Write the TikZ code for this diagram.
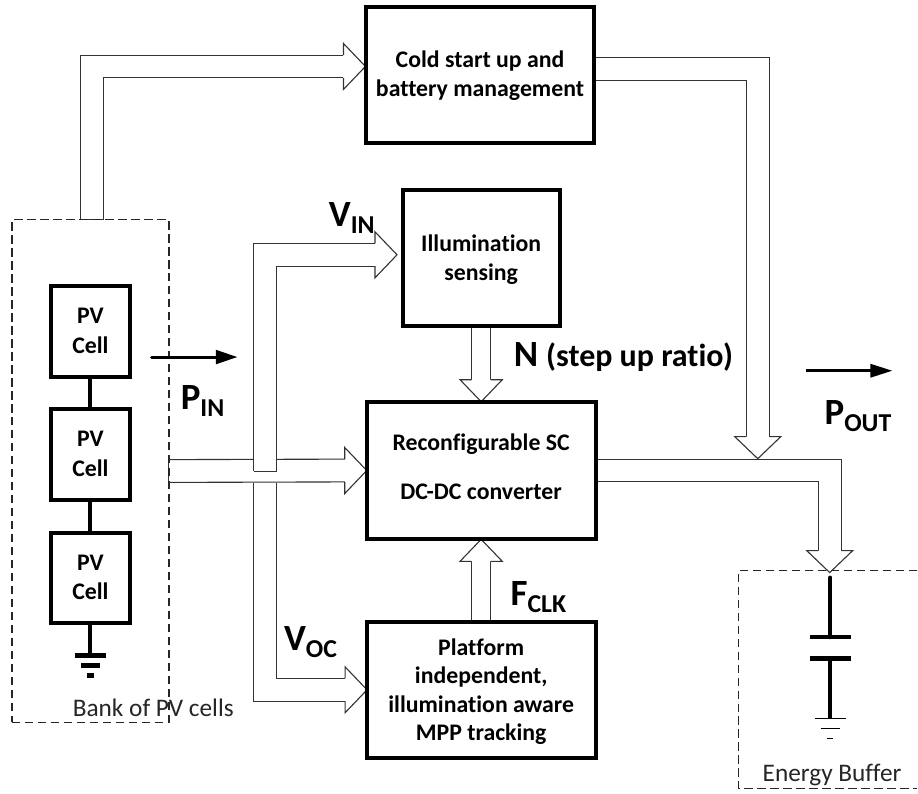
\documentclass[tikz,border=0pt]{standalone}
\usepackage{fontspec}
\setmainfont{Carlito}[Ligatures=NoCommon]
\usetikzlibrary{calc,backgrounds}
\definecolor{arrowline}{HTML}{333333}
\newcommand{\txtlines}[3]{\raisebox{#1pt}[0pt][0pt]{\vtop{\baselineskip=#2pt\lineskiplimit=-100pt\lineskip=0pt\halign{\hfil##\hfil\cr #3}}}}
\newcommand{\biglab}[2]{\fontsize{37}{40}\selectfont\bfseries #1\raisebox{-7pt}{\fontsize{25.8}{28}\selectfont #2}}
\newcommand{\headR}[1]{\draw[headstyle,shift={(#1)}] (-22,-11.4) -- (-22,-23) -- (0,0) -- (-22,23) -- (-22,11.4);}
\newcommand{\headD}[2]{\draw[headstyle,shift={(#1)}] (-#2,-22) -- (-#2-11.6,-22) -- (0,0) -- (#2+11.6,-22) -- (#2,-22);}
\newcommand{\headU}[2]{\draw[headstyle,shift={(#1)}] (-#2,22) -- (-#2-11.6,22) -- (0,0) -- (#2+11.6,22) -- (#2,22);}
% band: #1 path operation, #2 start, #3 end, #4 width, #5 start offset, #6 end offset (the other edge takes the opposite offsets)
\newcommand{\band}[6]{%
  \draw[white,line width=#4pt] (#2) #1 (#3);
  \draw[edge] ($(#2)+(#5)$) #1 ($(#3)+(#6)$);
  \draw[edge] ($(#2)-(#5)$) #1 ($(#3)-(#6)$);}
\tikzset{
  x=1pt,y=-1pt,
  block/.style={draw=black,fill=white,line width=4pt,outer sep=0pt,inner sep=0pt,font=\fontsize{23.8}{26}\selectfont\bfseries},
  cell/.style={block,minimum width=79pt},
  edge/.style={draw=arrowline,line width=1.1pt},
  headstyle/.style={draw=arrowline,line width=1.1pt,fill=white,line join=miter},
  dashbox/.style={draw=black!85,line width=1.3pt,dash pattern=on 8.5pt off 4.5pt},
  wire/.style={draw=black,line width=4pt},
  flow/.style={draw=black,line width=3pt},
  flowhead/.style={fill=black},
  plain/.style={font=\fontsize{25.3}{28}\selectfont,inner sep=0pt,anchor=base west,text=black!85},
  big/.style={inner sep=0pt,anchor=base west},
}
\begin{document}
\begin{tikzpicture}
% blocks
\node[block,minimum width=228.7pt,minimum height=136pt] (cold) at (480.35,75) {\txtlines{7}{28.7}{Cold start up and\cr battery management\cr}};
\node[block,minimum width=157pt,minimum height=136pt] (illum) at (481.5,258.5) {\txtlines{6.8}{29}{Illumination\cr sensing\cr}};
\node[block,minimum width=229pt,minimum height=137.7pt] (conv) at (481.5,470.85) {\txtlines{20}{48.6}{Reconfigurable SC\cr DC-DC converter\cr}};
\node[block,minimum width=229pt,minimum height=136.7pt] (mpp) at (481.5,690.35) {\txtlines{34.3}{28.4}{Platform\cr independent,\cr illumination aware\cr MPP tracking\cr}};
\node[cell,minimum height=91pt] (c1) at (90.5,331.5) {\txtlines{7.5}{29.3}{PV\cr Cell\cr}};
\node[cell,minimum height=91pt] (c2) at (90.5,455) {\txtlines{7.7}{30}{PV\cr Cell\cr}};
\node[cell,minimum height=90pt] (c3) at (90.5,578) {\txtlines{7.3}{29.3}{PV\cr Cell\cr}};
% dashed groups
\node[dashbox,minimum width=157pt,minimum height=502.7pt,outer sep=0pt,inner sep=0pt] (bank) at (90.5,471.35) {};
\draw[dashbox] (918,571) -- (739,571) -- (739,789.3) -- (918,789.3);
% PV chain and ground
\coordinate (g1) at (90.5,656);
\draw[wire] (c1) -- (c2);
\draw[wire] (c2) -- (c3);
\draw[wire] (c3) -- (g1);
\draw[line width=5pt] (75,656) -- (106,656);
\draw[line width=5pt] (81,666) -- (100,666);
\draw[line width=5pt] (87,676) -- (94,676);
% capacitor
\coordinate (captop) at (831,578);
\coordinate (plate1) at (831,637.7);
\coordinate (plate2) at (831,659);
\coordinate (capbot) at (831,719);
\draw[wire,line cap=round] (captop) -- (plate1);
\draw[wire] (plate2) -- (capbot);
\draw[line width=4.5pt] (811,637.7) -- (852,637.7);
\draw[line width=4.5pt] (811,659) -- (852,659);
\draw[line width=1.8pt] (816,719) -- (847,719);
\draw[line width=1.5pt] (822,729) -- (841,729);
\draw[line width=1.8pt] (828,739) -- (834,739);
% hollow arrows
\begin{pgfonlayer}{background}
\fill[white] (0,0) rectangle (918,794);
% bank to cold start
\coordinate (a1s) at (92,220);
\coordinate (a1t) at (365.7,66.5);
\coordinate (a1b) at (343.7,66.5);
\band{|-}{a1s}{a1b}{22.8}{-11.4,0}{0,-11.4}
\headR{a1t}
\draw[edge] (80.6,220) -- (103.4,220);
% bank to converter
\coordinate (a2t) at (conv.west);
\coordinate (a2b) at ($(conv.west)+(-22,0)$);
\band{--}{bank.east}{a2b}{22.8}{0,-11.4}{0,-11.4}
\headR{a2t}
\draw[edge] ($(bank.east)+(0,-11.4)$) -- ($(bank.east)+(0,11.4)$);
% V_IN
\coordinate (a3s) at (265.35,471.7);
\coordinate (a3t) at (397.3,255);
\coordinate (a3b) at (375.3,255);
\band{|-}{a3s}{a3b}{22.8}{-11.4,0}{0,-11.4}
\headR{a3t}
\draw[edge] ($(a3s)+(-11.4,0)$) -- ($(a3s)+(11.4,0)$);
% V_OC
\coordinate (a4s) at (265.35,483.2);
\coordinate (a4t) at (367.3,690.3);
\coordinate (a4b) at (345.3,690.3);
\band{|-}{a4s}{a4b}{22.8}{-11.4,0}{0,11.4}
\headR{a4t}
% N and F_CLK
\coordinate (a5b) at ($(conv.north)+(0,-19)$);
\band{--}{illum.south}{a5b}{19}{-9.5,0}{-9.5,0}
\headD{conv.north}{9.5}
\coordinate (a6b) at ($(conv.south)+(0,19)$);
\band{--}{mpp.north}{a6b}{19}{-9.5,0}{-9.5,0}
\headU{conv.south}{9.5}
% converter to buffer
\coordinate (a7t) at (830.3,573);
\coordinate (a7b) at (830.3,551);
\band{-|}{conv.east}{a7b}{22.8}{0,-11.4}{11.4,0}
\headD{a7t}{11.4}
% cold start to output
\coordinate (a8t) at (758.3,459);
\coordinate (a8b) at (758.3,437);
\coordinate (a8s) at (cold.east |- 0,69.2);
\band{-|}{a8s}{a8b}{22.8}{0,-11.4}{11.4,0}
\headD{a8t}{11.4}
\end{pgfonlayer}
% flow arrows
\coordinate (pins) at (151.7,357.3);
\coordinate (pine) at (216,357.3);
\coordinate (pint) at (237.3,357.3);
\draw[flow,line cap=round] (pins) -- (pine);
\fill[flowhead] (216,350) -- (pint) -- (216,364.6) -- cycle;
\coordinate (pouts) at (806.7,371);
\coordinate (poute) at (872,371);
\coordinate (poutt) at (892.7,371);
\draw[flow] (pouts) -- (poute);
\fill[flowhead] (871,364) -- (poutt) -- (871,378) -- cycle;
% labels
\node[big] (lpin) at (180.7,410) {\biglab{P}{IN}};
\node[big] (lvin) at (329,226.7) {\biglab{V}{IN}};
\node[big] (lvoc) at (284,650.7) {\biglab{V}{OC}};
\node[big] (lfclk) at (510.7,605.7) {\biglab{F}{CLK}};
\node[big] (lpout) at (825,425) {\biglab{P}{OUT}};
\node[big] (ln) at (514,366.7) {\fontsize{37}{40}\selectfont\bfseries N\hspace{8pt}\fontsize{32}{35}\selectfont (step up ratio)};
\node[plain] (lbank) at (72.7,717) {Bank of PV cells};
\node[plain] (lbuf) at (763,782) {Energy Buffer};
\useasboundingbox (0,0) rectangle (918,794);
\end{tikzpicture}
\end{document}
